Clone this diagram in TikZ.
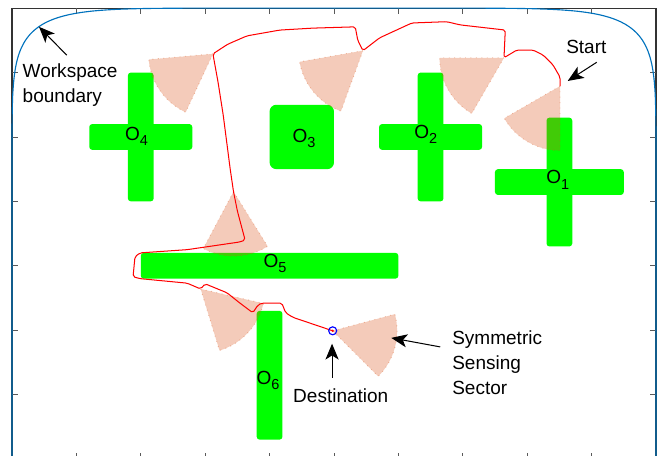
\documentclass[tikz,border=0pt]{standalone}
\usepackage{fontspec}
\setmainfont{Liberation Sans}
\usetikzlibrary{arrows.meta}
\definecolor{wsblue}{rgb}{0,0.447,0.741}
\definecolor{sectc}{rgb}{0.85,0.325,0.098}
\definecolor{obst}{rgb}{0,1,0}
\newcommand\sensorsector[3]{\filldraw[sensor] (#1) -- +(#2:1) arc[start angle=#2, end angle=#3, radius=1] -- cycle;}
\newcommand\obsub[1]{\raisebox{-2.3pt}{\fontsize{6.4}{7}\selectfont #1}}
\begin{document}
\begin{tikzpicture}[x=1cm,y=1cm,
  bar/.style={fill=obst, rounded corners=1.3pt},
  sensor/.style={fill=sectc, fill opacity=0.3, draw=sectc, draw opacity=0.35, dotted, line width=0.4pt},
  lbl/.style={font=\fontsize{8.4}{11.2}\selectfont, inner sep=0pt, align=left},
  ann/.style={-{Stealth[length=7pt,width=5.8pt,inset=1.8pt]}, line width=0.45pt},
  traj/.style={red, line width=0.45pt, rounded corners=0.8pt},
  axtick/.style={black!65, line width=0.4pt}]
\useasboundingbox (-0.186,0.047) rectangle (10.016,7.127);
% axes box and ticks
\draw[black!80, line width=0.5pt] (0,0) rectangle (10,7);
\foreach \i in {1,...,9} {
  \draw[axtick] (\i,0) -- (\i,0.09);
  \draw[axtick] (\i,7) -- (\i,6.91);
}
\foreach \j in {1,...,6} {
  \draw[axtick] (0,\j) -- (0.09,\j);
  \draw[axtick] (10,\j) -- (9.91,\j);
}
% workspace boundary (upper part of a superellipse, running down the sides)
\draw[wsblue, line width=0.5pt]
  (10,0) -- (10,3.5)
  -- plot[domain=0.05:89.95, samples=200, variable=\t] ({5+5*cos(\t)^0.25},{3.5+3.5*sin(\t)^0.25})
  -- plot[domain=0.05:89.95, samples=200, variable=\t] ({5-5*sin(\t)^0.25},{3.5+3.5*cos(\t)^0.25})
  -- (0,3.5) -- (0,0);
% obstacles
\fill[bar] (1.8,4.0) rectangle (2.2,6.0);
\fill[bar] (1.2,4.8) rectangle (2.8,5.2);
\fill[obst, rounded corners=3pt] (4.0,4.5) rectangle (5.0,5.5);
\fill[bar] (6.3,4.0) rectangle (6.7,6.0);
\fill[bar] (5.7,4.8) rectangle (7.3,5.2);
\fill[bar] (8.3,3.3) rectangle (8.7,5.3);
\fill[bar] (7.5,4.1) rectangle (9.5,4.5);
\fill[bar] (2.0,2.8) rectangle (6.0,3.2);
\fill[bar] (3.8,0.3) rectangle (4.2,2.3);
% sensing sectors
\sensorsector{3.12,6.29}{185}{245}
\sensorsector{5.45,6.34}{190}{250}
\sensorsector{7.64,6.23}{180}{240}
\sensorsector{8.51,5.79}{210}{270}
\sensorsector{3.44,4.15}{242}{302}
\sensorsector{2.93,2.64}{287}{347}
\sensorsector{4.98,1.99}{-45}{15}
% trajectory
\draw[traj] (8.51,5.79) -- (8.51,5.93) -- (8.40,6.12) -- (8.25,6.27) -- (8.09,6.35) -- (7.84,6.35)
  -- (7.64,6.23) -- (7.66,6.66) -- (6.96,6.74) -- (6.75,6.79) -- (6.21,6.77) -- (5.71,6.54)
  -- (5.45,6.34) -- (5.37,6.50) -- (5.33,6.71) -- (4.67,6.69) -- (4.16,6.66) -- (3.65,6.57)
  -- (3.35,6.44) -- (3.12,6.29) -- (3.20,5.85) -- (3.28,5.34) -- (3.39,4.49) -- (3.44,4.15)
  -- (3.50,3.85) -- (3.62,3.40) -- (3.54,3.37) -- (2.72,3.25) -- (1.99,3.20) -- (1.91,3.14)
  -- (1.88,2.83) -- (1.99,2.80) -- (2.72,2.73) -- (2.93,2.64) -- (3.0,2.72) -- (3.12,2.67)
  -- (3.34,2.58) -- (3.54,2.42) -- (3.74,2.27) -- (3.82,2.39) -- (3.88,2.42) -- (4.19,2.42)
  -- (4.25,2.27) -- (4.36,2.20) -- (4.98,1.99);
% destination marker
\draw[blue, line width=0.5pt] (4.98,1.99) circle[radius=0.062];
\fill[red] (4.98,1.99) circle[radius=0.02];
% obstacle labels
\node[lbl, anchor=base west] (o4) at (1.75,4.95) {O\obsub{4}};
\node[lbl, anchor=base west] (o3) at (4.35,4.91) {O\obsub{3}};
\node[lbl, anchor=base west] (o2) at (6.24,4.98) {O\obsub{2}};
\node[lbl, anchor=base west] (o1) at (8.29,4.27) {O\obsub{1}};
\node[lbl, anchor=base west] (o5) at (3.90,2.97) {O\obsub{5}};
\node[lbl, anchor=base west] (o6) at (3.79,1.16) {O\obsub{6}};
% annotations
\node[lbl, anchor=north west] (ws) at (0.16,6.145) {Workspace\\boundary};
\coordinate (wsTail) at (0.85,6.27);
\coordinate (wsTip) at (0.42,6.71);
\draw[ann] (wsTail) -- (wsTip);
\node[lbl, anchor=base west] (start) at (8.60,6.29) {Start};
\coordinate (stTail) at (9.08,6.16);
\coordinate (stTip) at (8.63,5.87);
\draw[ann] (stTail) -- (stTip);
\node[lbl, anchor=base west] (dest) at (4.36,0.87) {Destination};
\coordinate (dTail) at (4.97,1.26);
\coordinate (dTip) at (4.97,1.79);
\draw[ann] (dTail) -- (dTip);
\node[lbl, anchor=north west] (sss) at (6.83,2.005) {Symmetric\\Sensing\\Sector};
\coordinate (sTail) at (6.65,1.74);
\coordinate (sTip) at (5.89,1.88);
\draw[ann] (sTail) -- (sTip);
\end{tikzpicture}
\end{document}
